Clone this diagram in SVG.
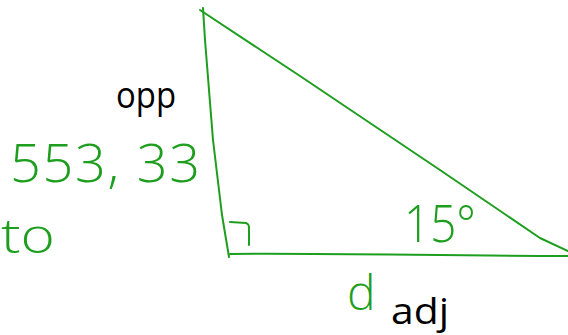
<svg xmlns="http://www.w3.org/2000/svg" width="568" height="335" viewBox="0 0 568 335">
<style>
.ink{fill:none;stroke:#1e9e1e;stroke-width:2;stroke-linecap:round;stroke-linejoin:round}
.hand{fill:#1e9e1e;font-family:"Open Sans","DejaVu Sans",sans-serif;font-weight:300}
.lbl{fill:#000;font-family:"Open Sans","DejaVu Sans",sans-serif;font-weight:500}
</style>
<rect width="568" height="335" fill="#fff"/>
<g id="triangle">
<path class="ink" d="M203 8 L205 40 L213 140 L222 215 L229 257"/>
<path class="ink" d="M200 10 L300 76 L440 170 L540 238 L568 251"/>
<path class="ink" d="M230 254 C330 253 450 256 568 256"/>
<path class="ink" d="M230 222 L246 223 C249 224 249 226 249 229 L249 245"/>
</g>
<g id="labels">
<text class="lbl" x="116" y="108" font-size="37" textLength="60" lengthAdjust="spacingAndGlyphs">opp</text>
<text class="lbl" x="391" y="324" font-size="37" textLength="58" lengthAdjust="spacingAndGlyphs">adj</text>
<text class="hand" x="10" y="182" font-size="54" textLength="190" lengthAdjust="spacing">553, 33</text>
<text class="hand" x="1" y="253" font-size="48" textLength="54" lengthAdjust="spacingAndGlyphs">to</text>
<text class="hand" x="404" y="242" font-size="52" textLength="72" lengthAdjust="spacingAndGlyphs">15°</text>
<text class="hand" x="347" y="310" font-size="48">d</text>
</g>
</svg>
